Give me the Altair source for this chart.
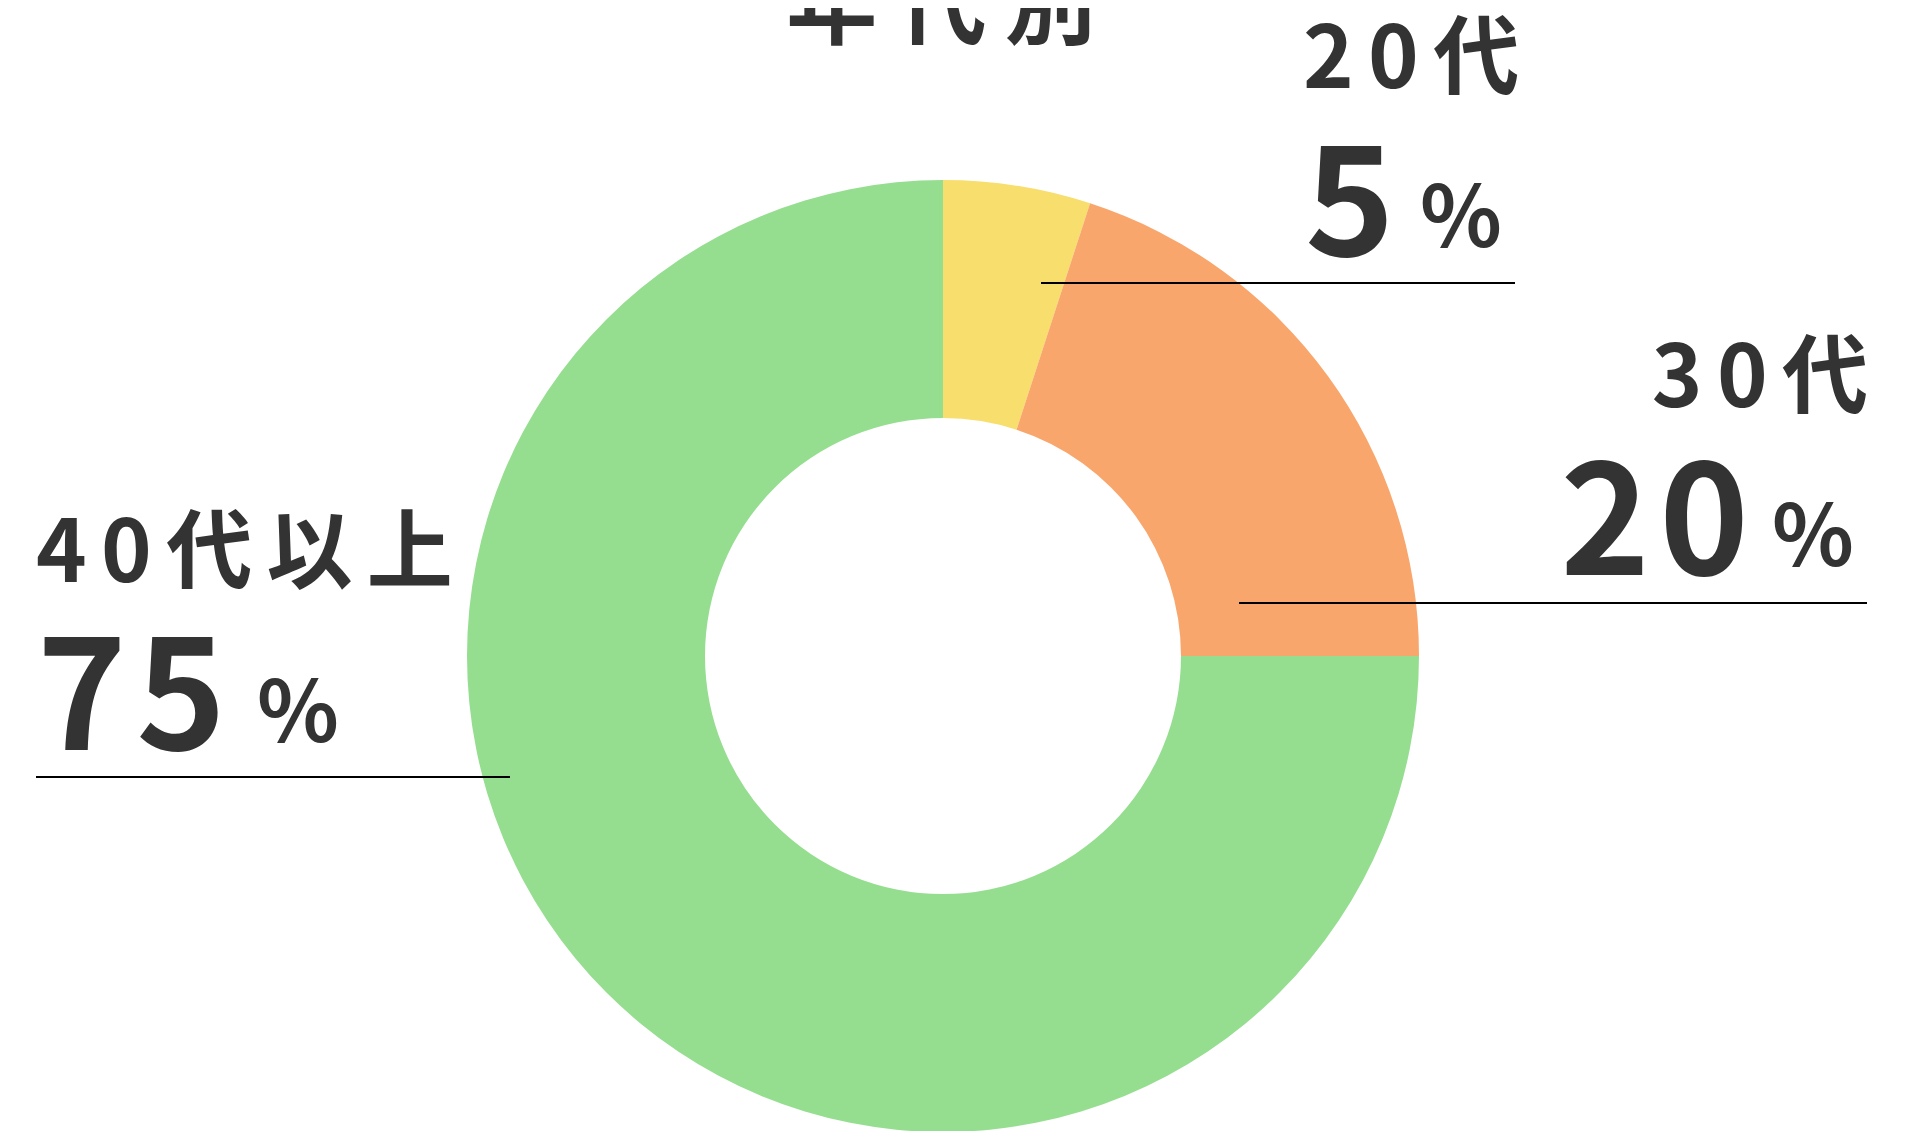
import altair as alt
import pandas as pd

# ---- data ----
categories = ["20代", "30代", "40代以上"]
values = [5, 20, 75]
colors = ["#F8DE6C", "#F9A66C", "#95DE90"]
title_text = "年代別"

SP_T = "\u2009"  # thin space for title letter spacing
SP = "\u2006"    # six-per-em space for label letter spacing
HS = "\u200a"    # hair space for big numbers

df = pd.DataFrame({
    "cat": categories,
    "value": values,
    "order": list(range(len(categories))),
    "label": [SP.join(list(c)) for c in categories],
    "num": [HS.join(list(str(v))) for v in values],
    "pct": ["%"] * len(categories),
})

FONT = "Noto Sans CJK JP"
TXT = "#333333"

base = alt.Chart(df)

donut = base.mark_arc(innerRadius=238, outerRadius=476, stroke=None).encode(
    theta=alt.Theta("value:Q", stack=True),
    order=alt.Order("order:Q"),
    color=alt.Color("cat:N", scale=alt.Scale(domain=categories, range=colors), legend=None),
    x=alt.value(935),
    y=alt.value(648),
)

title = alt.Chart(pd.DataFrame({"t": [SP_T.join(list(title_text))]})).mark_text(
    font=FONT, fontSize=91, fontWeight="bold", color=TXT, align="center", baseline="alphabetic"
).encode(text="t:N", x=alt.value(933), y=alt.value(29))


def label_group(cat, lx, ly, nx, ny, px, py, align, lx0, lx1, ly_line):
    sub = base.transform_filter(alt.datum.cat == cat)
    lab = sub.mark_text(font=FONT, fontSize=86, fontWeight="bold", color=TXT,
                        align=align, baseline="alphabetic").encode(
        text="label:N", x=alt.value(lx), y=alt.value(ly))
    num = sub.mark_text(font=FONT, fontSize=152, fontWeight="bold", color=TXT,
                        align=align, baseline="alphabetic").encode(
        text="num:N", x=alt.value(nx), y=alt.value(ny))
    pct = sub.mark_text(font=FONT, fontSize=85, fontWeight="bold", color=TXT,
                        align="left", baseline="alphabetic").encode(
        text="pct:N", x=alt.value(px), y=alt.value(py))
    rule = sub.mark_rule(color="#000000", strokeWidth=2).encode(
        x=alt.value(lx0), x2=alt.value(lx1), y=alt.value(ly_line))
    return [rule, lab, num, pct]


layers = [donut, title]
layers += label_group("20代", 1295, 80, 1297, 248, 1412, 239, "left", 1033, 1507, 275)
layers += label_group("30代", 1860, 399, 1741, 567, 1764, 558, "right", 1231, 1859, 595)
layers += label_group("40代以上", 28, 574, 29, 742, 249, 734, "left", 28, 502, 769)

chart = alt.layer(*layers).properties(
    width=1889, height=1123,
    autosize=alt.AutoSizeParams(type="none"),
    padding=0,
    background="white",
).configure_view(strokeWidth=0)

chart.save("out.html", embed_options={"renderer": "svg", "actions": False})
